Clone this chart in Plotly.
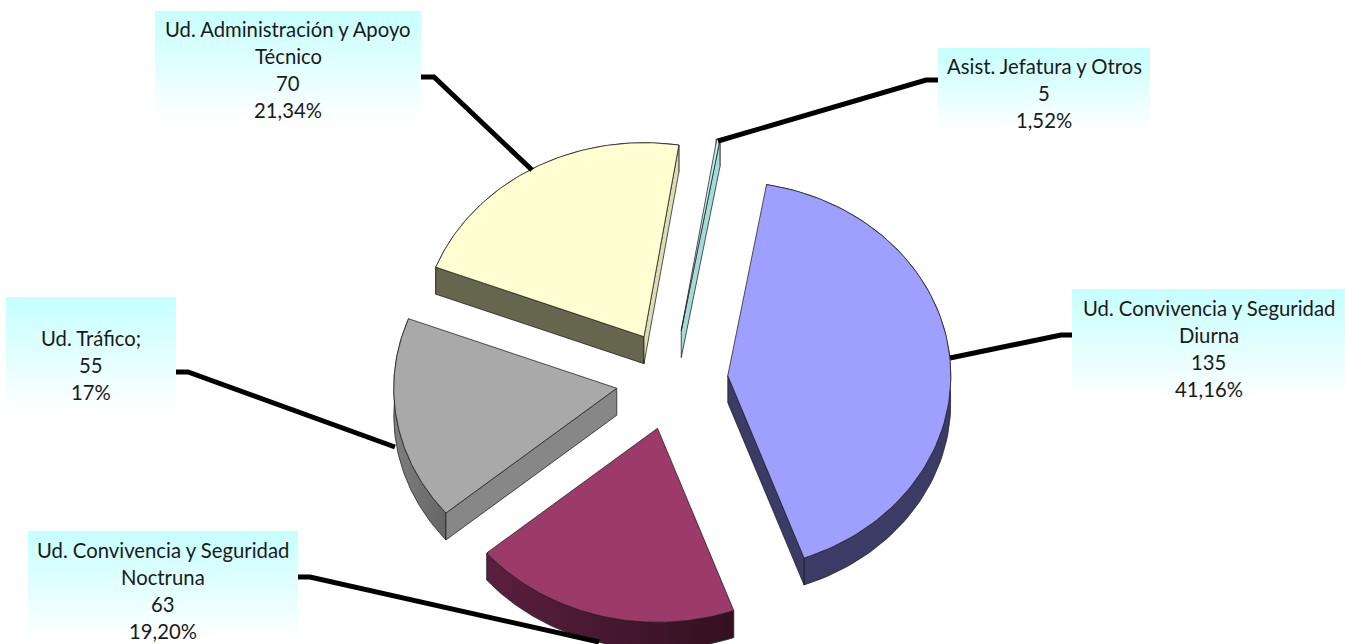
# exploded 3d pie, drawn in pixel-sized axes since plotly has no 3d pie
import numpy as np
import plotly.graph_objects as go

categories = [
    "Ud. Convivencia y Seguridad Diurna",
    "Ud. Convivencia y Seguridad Noctruna",
    "Ud. Tráfico",
    "Ud. Administración y Apoyo Técnico",
    "Asist. Jefatura y Otros",
]
values = [135, 63, 55, 70, 5]
# sweep of each slice as drawn in the picture, degrees (the small slice is drawn thinner than its label)
sweeps = [150, 70, 61, 78, 1]
first_angle = 10

top_colors = ["#9F9FFF", "#9C3A69", "#A9A9A9", "#FFFFD2", "#BDEFEF"]
start_face = ["#3B3B66", "#35111F", "#878787", "#66664E", "#A5DADA"]
end_face = ["#3B3B66", "#4F1A38", "#878787", "#DDDDB5", "#A5DADA"]
arc_left = ["#3B3B66", "#5A1F40", "#7E7E7E", "#66664E", "#A5DADA"]
arc_right = ["#3B3B66", "#33101F", "#666666", "#66664E", "#A5DADA"]

label_lines = [
    ["Ud. Convivencia y Seguridad", "Diurna", "135", "41,16%"],
    ["Ud. Convivencia y Seguridad", "Noctruna", "63", "19,20%"],
    ["Ud. Tráfico;", "55", "17%"],
    ["Ud. Administración y Apoyo", "Técnico", "70", "21,34%"],
    ["Asist. Jefatura y Otros", "5", "1,52%"],
]
box_x = [(1072, 1345), (28, 298), (6, 176), (155, 421), (938, 1150)]
box_y = [(289, 400), (531, 640), (297, 412), (11, 120), (48, 130)]
first_line_y = [308, 550, 338, 29, 66]
leader_x = [(1072, 1061, 950), (298, 310, 599), (176, 188, 395), (421, 434, 532), (938, 926, 718)]
leader_y = [(335, 335, 358), (577, 577, 642), (372, 372, 447), (77, 77, 170), (80, 80, 141)]

WIDTH, HEIGHT = 1345, 644
CENTER = (672, 380)
RX, RY = 223, 194
EXPLODE_X, EXPLODE_Y = 56, 50
DEPTH = 27
EDGE = dict(color="rgba(30,30,30,0.75)", width=1)
FONT = "Lato"
FONT_SIZE = 20.3
LINE_STEP = 27


def add_poly(fig, xs, ys, color=None, gradient=None):
    fig.add_trace(
        go.Scatter(
            x=xs,
            y=ys,
            mode="lines",
            line=EDGE,
            fill="toself",
            fillcolor=color,
            fillgradient=gradient,
            hoverinfo="skip",
            showlegend=False,
        )
    )


fig = go.Figure()

# label boxes first, fading from cyan to white
for (x0, x1), (y0, y1) in zip(box_x, box_y):
    fig.add_trace(
        go.Scatter(
            x=[x0, x1, x1, x0, x0],
            y=[y0, y0, y1, y1, y0],
            mode="lines",
            line=dict(width=0),
            fill="toself",
            fillgradient=dict(
                type="vertical",
                start=y0,
                stop=y1,
                colorscale=[[0, "#C6FFFF"], [0.5, "#E2FFFF"], [1, "#FFFFFF"]],
            ),
            hoverinfo="skip",
            showlegend=False,
        )
    )

# slices
angle = first_angle
for i, sweep in enumerate(sweeps):
    theta = np.radians(np.linspace(angle, angle + sweep, 90))
    mid = np.radians(angle + sweep / 2)
    apex_x = CENTER[0] + EXPLODE_X * np.sin(mid)
    apex_y = CENTER[1] - EXPLODE_Y * np.cos(mid)
    arc_x = apex_x + RX * np.sin(theta)
    arc_y = apex_y - RY * np.cos(theta)

    # outer wall, then the flat cut faces, the top covers the rest of the wall
    add_poly(
        fig,
        np.concatenate([arc_x, arc_x[::-1], arc_x[:1]]),
        np.concatenate([arc_y, arc_y[::-1] + DEPTH, arc_y[:1]]),
        gradient=dict(
            type="horizontal",
            colorscale=[[0, arc_left[i]], [1, arc_right[i]]],
        ),
    )
    # a cut face only shows when the slice lies above its edge
    faces = []
    if np.sin(theta[0]) < 0:
        faces.append((arc_x[0], arc_y[0], start_face[i]))
    if np.sin(theta[-1]) > 0:
        faces.append((arc_x[-1], arc_y[-1], end_face[i]))
    for fx, fy, fcolor in faces:
        add_poly(
            fig,
            [apex_x, fx, fx, apex_x, apex_x],
            [apex_y, fy, fy + DEPTH, apex_y + DEPTH, apex_y],
            color=fcolor,
        )
    add_poly(
        fig,
        np.concatenate([[apex_x], arc_x, [apex_x]]),
        np.concatenate([[apex_y], arc_y, [apex_y]]),
        color=top_colors[i],
    )
    angle += sweep

# leader lines
for xs, ys in zip(leader_x, leader_y):
    fig.add_trace(
        go.Scatter(
            x=xs,
            y=ys,
            mode="lines",
            line=dict(color="black", width=5),
            hoverinfo="skip",
            showlegend=False,
        )
    )

# one annotation per line, plotly's own line spacing is too tight here
for lines, (x0, x1), y in zip(label_lines, box_x, first_line_y):
    for j, text in enumerate(lines):
        fig.add_annotation(
            x=(x0 + x1) / 2,
            y=y + j * LINE_STEP,
            text=text,
            showarrow=False,
            xanchor="center",
            yanchor="middle",
            font=dict(family=FONT, size=FONT_SIZE, color="#1a1a1a"),
        )

fig.update_xaxes(range=[0, WIDTH], visible=False, fixedrange=True)
fig.update_yaxes(range=[HEIGHT, 0], visible=False, fixedrange=True)
fig.update_layout(
    width=WIDTH,
    height=HEIGHT,
    margin=dict(l=0, r=0, t=0, b=0),
    paper_bgcolor="white",
    plot_bgcolor="white",
    showlegend=False,
)
# the page's default body margin would push the plot 8px off
fig.write_html(
    "out.html",
    config=dict(displayModeBar=False),
    post_script="document.body.style.margin = '0';",
)
